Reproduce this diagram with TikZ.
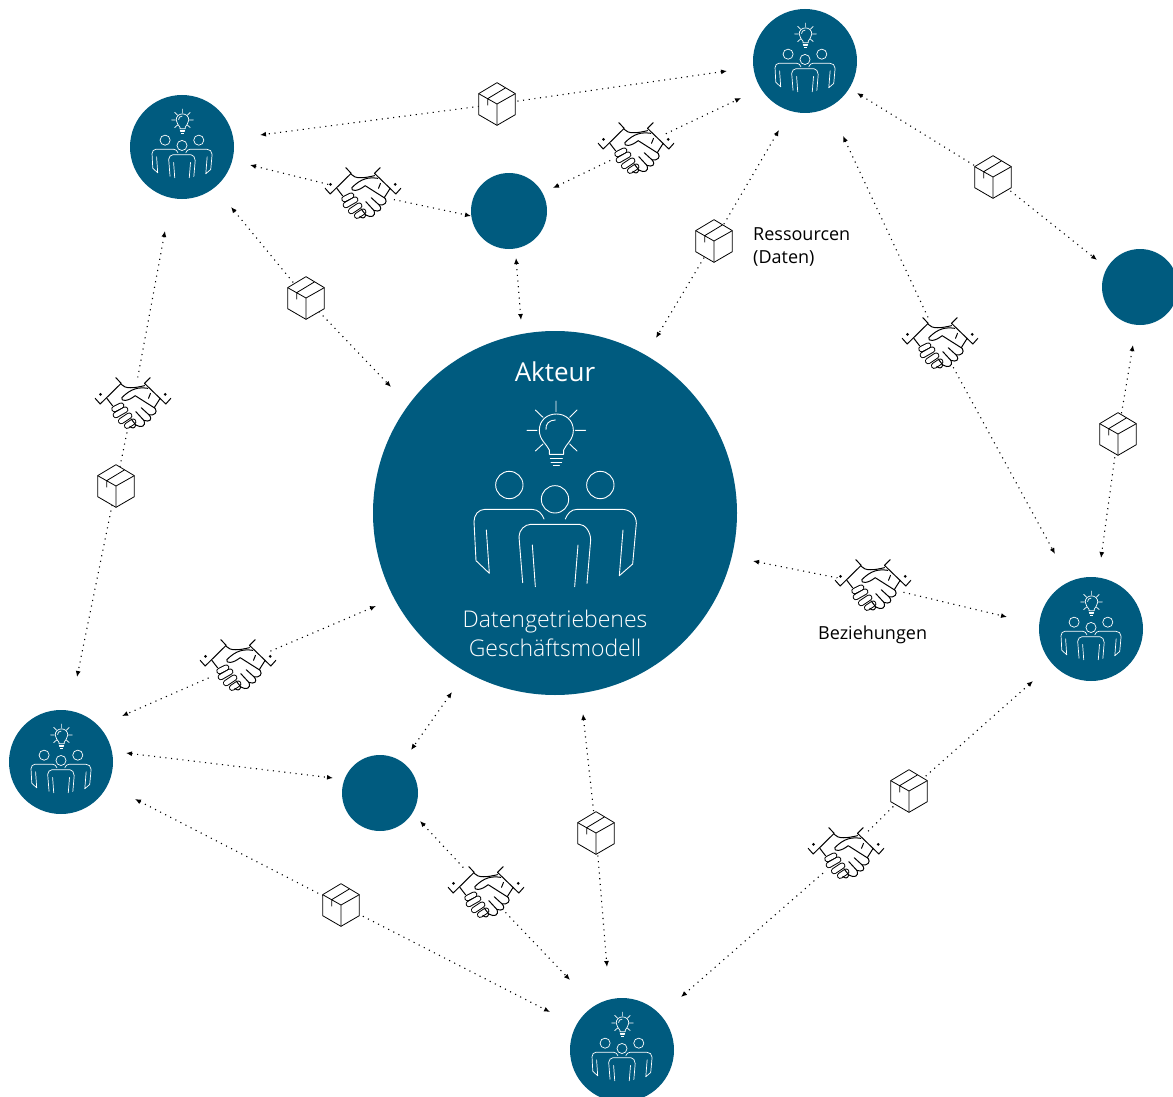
\documentclass[tikz,border=0pt]{standalone}
\usepackage{fontspec}
\setmainfont{Open Sans Light}
\newfontfamily\regfont{Open Sans}
\usetikzlibrary{arrows.meta}
\definecolor{petrol}{HTML}{005B7F}
\tikzset{
 x=1pt,y=-1pt,
 disc/.style={circle,fill=petrol,inner sep=0pt,minimum size=#1},
 conn/.style={line width=1.1pt,black,dash pattern=on 1.1pt off 4.6pt,{Latex[length=6pt,width=5pt]}-{Latex[length=6pt,width=5pt]}},
 label/.style={font=\regfont\fontsize{18}{23}\selectfont,align=left,anchor=west,text=black,inner sep=0pt},
 pics/team/.style={code={
  \begin{scope}[white,line width=#1,scale=1/3,shift={(-345,-462)},line cap=round,line join=round]
   \draw (348,183)--(348,215) (261,271)--(291,271) (406,271)--(437,271)
     (286,210)--(309,232) (411,210)--(389,232) (286,333)--(309,312) (411,333)--(389,312);
   \draw (328,343) -- (328,330) .. controls (320,312) and (298,300) .. (298,271)
      .. controls (298,240) and (322,222) .. (349,222)
      .. controls (376,222) and (400,240) .. (400,271)
      .. controls (400,300) and (378,312) .. (371,330) -- (371,343) -- cycle;
   \draw (318,268) .. controls (316,252) and (328,240) .. (346,240);
   \draw (331,354)--(367,354) (333,366)--(365,366) (340,377)--(358,377);
   \draw (208,435) circle[radius=41] (345,478) circle[radius=41] (481,435) circle[radius=41];
   \draw (312,537) .. controls (306,522) and (296,508) .. (275,508) -- (135,508) .. controls (115,508) and (102,525) .. (102,545) -- (108,662) -- (148,700) -- (139,570);
   \draw (376,537) .. controls (382,522) and (392,508) .. (412,508) -- (545,508) .. controls (570,508) and (589,525) .. (589,550) -- (578,672) -- (538,707) -- (549,570);
   \draw (248,728) -- (237,590) .. controls (237,570) and (255,553) .. (272,553) -- (418,553) .. controls (435,553) and (452,575) .. (452,600) -- (441,730);
   \draw (277,615)--(286,740) (414,615)--(404,740);
  \end{scope}}},
 pics/parcel/.style={code={
  \begin{scope}[black,line width=0.8pt,line join=round,scale=1/3,shift={(-80,-86)}]
   \draw[fill=white] (80,22)--(135,55)--(135,118)--(80,150)--(25,118)--(25,55)--cycle;
   \draw (25,55)--(80,86)--(135,55) (80,86)--(80,150) (52,70)--(105,38) (52,70)--(52,90);
  \end{scope}}},
 fing/.style={line cap=round,line width=6.4pt,black},
 fingw/.style={line cap=round,line width=4.4pt,white},
 pics/shake/.style={code={
  \begin{scope}[black,line width=1pt,line join=round,line cap=round,scale=1/3,shift={(-123.5,-114)}]
   \fill[white] (10,100)--(72,38)--(175,38)--(237,100)--(190,170)--(130,198)--(60,165)--cycle;
   \draw (10,100)--(25,117)--(88,55)--(72,38);
   \draw (175,38)--(158,55)--(222,117)--(237,100);
   \draw (88,58) .. controls (100,72) and (125,70) .. (158,62);
   \draw (45,100)--(62,122);
   \draw (205,100)--(186,130);
   \draw (176,85)--(170,100);
   \foreach \a/\b/\c/\d in {68/132/88/122, 72/150/100/134, 88/168/112/152, 106/182/124/170}
     {\draw[fing] (\a,\b)--(\c,\d); \draw[fingw] (\a,\b)--(\c,\d);}
   \fill[white] (104,112)--(170,110)--(190,135)--(150,168)--(128,150)--cycle;
   \draw (168,70) .. controls (140,66) and (118,70) .. (90,98) .. controls (86,110) and (108,110) .. (130,92) -- (190,130) .. controls (198,142) and (188,152) .. (172,150) -- (148,128);
   \draw (172,150) .. controls (184,165) and (172,172) .. (156,166) -- (132,140);
   \draw (156,166) .. controls (164,184) and (148,190) .. (132,180) -- (118,162);
   \draw (132,180) .. controls (128,192) and (120,190) .. (114,184);
   \fill (26,88) circle[radius=4.5] (220,88) circle[radius=4.5];
  \end{scope}}},
}
\begin{document}
\begin{tikzpicture}[x=1pt,y=-1pt]
\useasboundingbox (0,0) rectangle (1173,1097);
% discs
\node[disc=364pt] (main) at (555,513) {};
\node[disc=76pt] (s1) at (509,211) {};
\node[disc=76pt] (s2) at (1140,287) {};
\node[disc=76pt] (s3) at (380,793) {};
\node[disc=104pt] (a1) at (182,147) {};
\node[disc=104pt] (a2) at (805,61) {};
\node[disc=104pt] (a3) at (1091,629) {};
\node[disc=104pt] (a4) at (61,762) {};
\node[disc=104pt] (a5) at (622,1050) {};
% icon anchors
\foreach \n/\p in {b1/{497,104},b2/{993,177},b3/{714,241},b4/{306,298},b5/{1118,434},b6/{116,486},b7/{909,791},b8/{596,833},b9/{341,905},
  h1/{363,193},h2/{636,148},h3/{940,343},h4/{133,403},h5/{873,585},h6/{238,665},h7/{846,853},h8/{486,892},
  e1a/{727,71},e1b/{260,135},e2a/{250,165},e2b/{471,216},e3a/{553,188},e3b/{741,98},e4a/{516,258},e4b/{521,320},
  e5a/{779,130},e5b/{656,338},e6a/{231,207},e6b/{391,387},e7a/{857,93},e7b/{1097,260},e8a/{843,136},e8b/{1055,554},
  e9a/{1133,345},e9b/{1101,558},e10a/{753,561},e10b/{1007,617},e11a/{165,231},e11b/{77,677},e12a/{376,606},e12b/{122,716},
  e13a/{452,692},e13b/{411,750},e14a/{126,753},e14b/{333,778},e15a/{135,799},e15b/{550,1012},e16a/{420,821},e16b/{570,980},
  e17a/{583,714},e17b/{607,967},e18a/{1033,681},e18b/{681,997}}
  {\coordinate (\n) at (\p);}
% connectors
\draw[conn] (e1a)--(b1)--(e1b);
\draw[conn] (e2a)--(h1)--(e2b);
\draw[conn] (e3a)--(h2)--(e3b);
\draw[conn] (e4a)--(e4b);
\draw[conn] (e5a)--(b3)--(e5b);
\draw[conn] (e6a)--(b4)--(e6b);
\draw[conn] (e7a)--(b2)--(e7b);
\draw[conn] (e8a)--(h3)--(e8b);
\draw[conn] (e9a)--(b5)--(e9b);
\draw[conn] (e10a)--(h5)--(e10b);
\draw[conn] (e11a)--(h4)--(b6)--(e11b);
\draw[conn] (e12a)--(h6)--(e12b);
\draw[conn] (e13a)--(e13b);
\draw[conn] (e14a)--(e14b);
\draw[conn] (e15a)--(b9)--(e15b);
\draw[conn] (e16a)--(h8)--(e16b);
\draw[conn] (e17a)--(b8)--(e17b);
\draw[conn] (e18a)--(b7)--(h7)--(e18b);
% icons
\foreach \n in {b1,b2,b3,b4,b5,b6,b7,b8,b9} \pic at (\n) {parcel};
\foreach \n in {h1,h2,h3,h4,h5,h6,h7,h8} \pic at (\n) {shake};
\pic at (555,494) {team=0.9pt};
\foreach \n in {a1,a2,a3,a4,a5} \pic[scale=0.37] at ([yshift=3.5pt]\n) {team=0.7pt};
% text
\node[text=white,font=\regfont\fontsize{26}{30}\selectfont] (t1) at (555,372) {Akteur};
\node[text=white,font=\fontsize{23}{29}\selectfont,align=center] (t2) at (555,633) {Datengetriebenes\\Geschäftsmodell};
\node[label] (t3) at (753,246.5) {Ressourcen\\(Daten)};
\node[label] (t4) at (818,635) {Beziehungen};
\end{tikzpicture}
\end{document}
